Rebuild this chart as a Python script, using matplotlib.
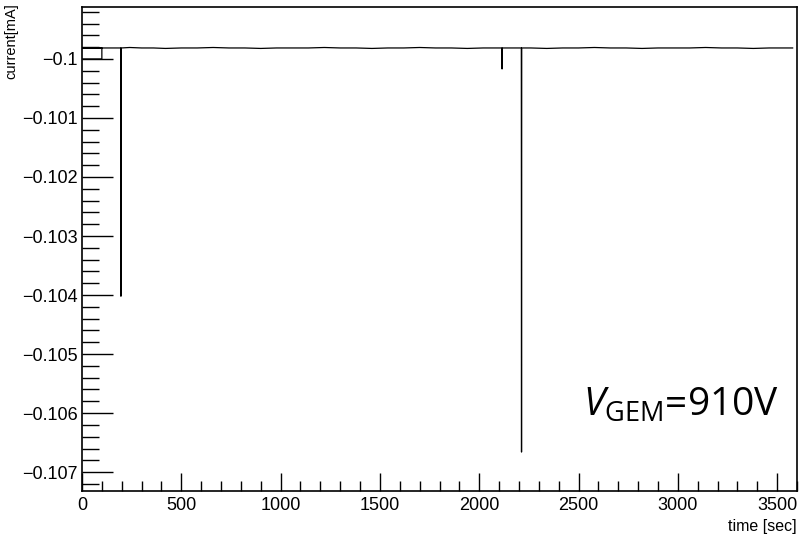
import matplotlib
matplotlib.use("Agg")
import matplotlib.pyplot as plt
from matplotlib.ticker import MultipleLocator, FuncFormatter

# HV monitor log: time [sec] vs current [mA]
time_sec = [0, 100, 100, 0, 40, 80, 101, 150, 195, 196, 197, 240, 300, 360, 420,
            500, 580, 660, 740, 820, 900, 980, 1060, 1140, 1220, 1300, 1380,
            1460, 1540, 1620, 1700, 1780, 1860, 1940, 2020, 2080, 2114, 2115,
            2116, 2160, 2212, 2213, 2214, 2260, 2340, 2420, 2500, 2580, 2660,
            2740, 2820, 2900, 2980, 3060, 3140, 3220, 3300, 3380, 3460, 3540, 3578]
current_mA = [-0.1, -0.1, -0.099814, -0.099814, -0.099814, -0.099814, -0.099814,
              -0.099814, -0.099814, -0.104020, -0.099814, -0.099806, -0.099814,
              -0.099814, -0.099822, -0.099814, -0.099814, -0.099806, -0.099814,
              -0.099814, -0.099822, -0.099814, -0.099814, -0.099814, -0.099806,
              -0.099814, -0.099814, -0.099822, -0.099814, -0.099814, -0.099806,
              -0.099814, -0.099814, -0.099822, -0.099814, -0.099814, -0.099814,
              -0.100170, -0.099814, -0.099814, -0.099814, -0.106660, -0.099814,
              -0.099814, -0.099822, -0.099814, -0.099814, -0.099806, -0.099814,
              -0.099814, -0.099822, -0.099814, -0.099814, -0.099814, -0.099806,
              -0.099814, -0.099814, -0.099822, -0.099814, -0.099814, -0.099814]

plt.rcParams['font.family'] = ['Liberation Sans', 'DejaVu Sans']
plt.rcParams['mathtext.fontset'] = 'custom'
plt.rcParams['mathtext.rm'] = 'Open Sans'
plt.rcParams['mathtext.it'] = 'Open Sans:italic'

fig = plt.figure(figsize=(8.09, 5.35), dpi=100)
ax = fig.add_axes([82 / 809, 1 - 491 / 535, (797 - 82) / 809, (491 - 7) / 535])

ax.plot(time_sec, current_mA, color='black', linewidth=0.9)

ax.set_xlim(0, 3600)
ax.set_ylim(-0.10732, -0.09912)

ax.xaxis.set_major_locator(MultipleLocator(500))
ax.xaxis.set_minor_locator(MultipleLocator(100))
ax.yaxis.set_major_locator(MultipleLocator(0.001))
ax.yaxis.set_minor_locator(MultipleLocator(0.0002))
ax.yaxis.set_major_formatter(FuncFormatter(lambda v, p: f"{v:g}".replace('-', '\u2212')))

ax.tick_params(axis='x', which='major', direction='in', length=13, width=1, labelsize=13, pad=4)
ax.tick_params(axis='x', which='minor', direction='in', length=7, width=1)
ax.tick_params(axis='y', which='major', direction='in', length=22, width=1, labelsize=13, pad=3)
ax.tick_params(axis='y', which='minor', direction='in', length=12, width=1)
ax.tick_params(top=False, right=False, which='both')

for sp in ax.spines.values():
    sp.set_linewidth(1.2)

fig.text(797 / 809, 1 - 526 / 535, "time [sec]", ha='right', va='center', fontsize=11.5)
fig.text(11 / 809, 1 - 3 / 535, "current[mA]", ha='center', va='top', rotation=90, fontsize=10.5)

ax.text(583 / 809, 1 - 416 / 535, r"$V_{\mathrm{GEM}}$=910V", transform=fig.transFigure,
        ha='left', va='baseline', fontsize=28, family='Open Sans')

fig.savefig("out.png", dpi=100)
